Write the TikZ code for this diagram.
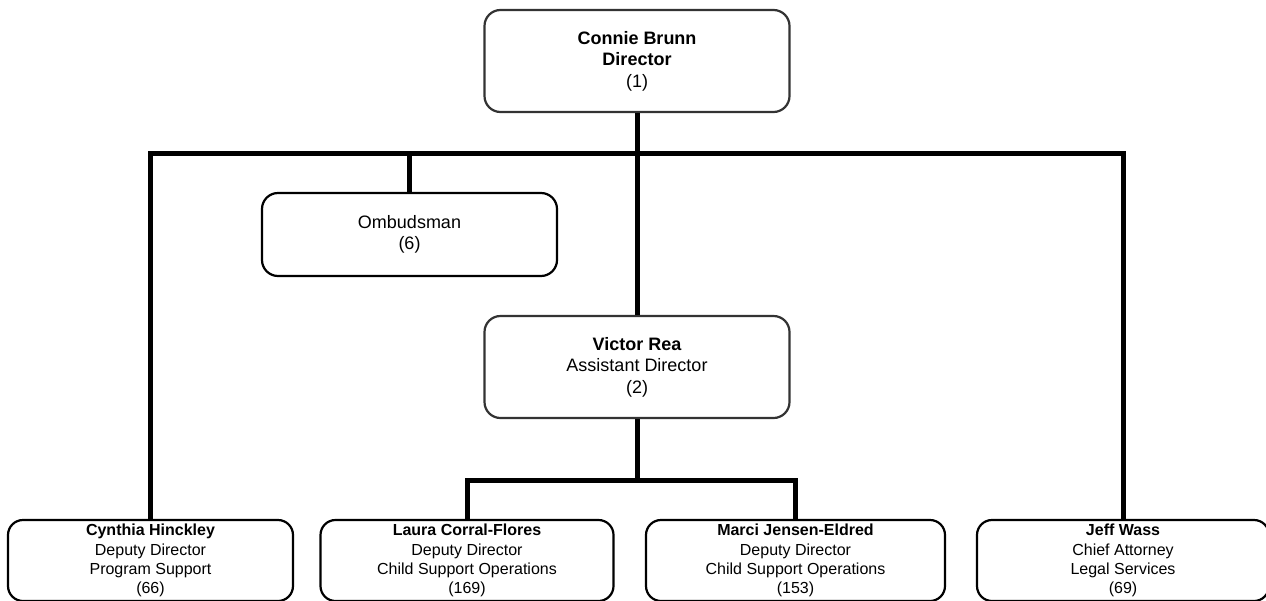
\documentclass[tikz,border=0pt]{standalone}
\usepackage{fontspec}
\setmainfont{Liberation Sans}
\begin{document}
\begin{tikzpicture}[x=1pt,y=-1pt,
  box/.style={draw=#1, line width=2.2pt, rounded corners=16pt, fill=white,
    align=center, inner sep=0pt, anchor=center},
  box/.default={black!80},
  bigbox/.style={box, font=\fontsize{18}{21.6}\selectfont},
  smallbox/.style={box=black, rounded corners=15pt, minimum height=81pt,
    font=\fontsize{16}{19.2}\selectfont},
  link/.style={line width=5pt, line join=miter, draw=black}]
\useasboundingbox (0,0) rectangle (1266,600);

% top level
\node[bigbox, minimum width=305pt, minimum height=102pt] (director) at (637,61)
  {\textbf{Connie Brunn}\\\textbf{Director}\\(1)};
\node[bigbox, box=black, minimum width=295pt, minimum height=83pt] (omb) at (409.5,234.5)
  {Ombudsman\\(6)};
\node[bigbox, minimum width=305pt, minimum height=102pt] (victor) at (637,367)
  {\textbf{Victor Rea}\\Assistant Director\\(2)};

% bottom row
\node[smallbox, minimum width=285pt] (cynthia) at (150.5,560.5)
  {\textbf{Cynthia Hinckley}\\Deputy Director\\Program Support\\(66)};
\node[smallbox, minimum width=293pt] (laura) at (467,560.5)
  {\textbf{Laura Corral-Flores}\\Deputy Director\\Child Support Operations\\(169)};
\node[smallbox, minimum width=299pt] (marci) at (795.5,560.5)
  {\textbf{Marci Jensen-Eldred}\\Deputy Director\\Child Support Operations\\(153)};
\node[smallbox, minimum width=292pt] (jeff) at (1123,560.5)
  {\textbf{Jeff Wass}\\Chief Attorney\\Legal Services\\(69)};

% junction points of the bus lines
\coordinate (bar) at (637,153);
\coordinate (vbar) at (637,480);

% connectors
\draw[link] (director.south) -- (victor.north);
\draw[link] (cynthia.north) |- (bar) -| (jeff.north);
\draw[link] (omb.north) -- (omb.north |- bar);
\draw[link] (victor.south) -- (vbar);
\draw[link] (laura.north) |- (vbar) -| (marci.north);
\end{tikzpicture}
\end{document}
